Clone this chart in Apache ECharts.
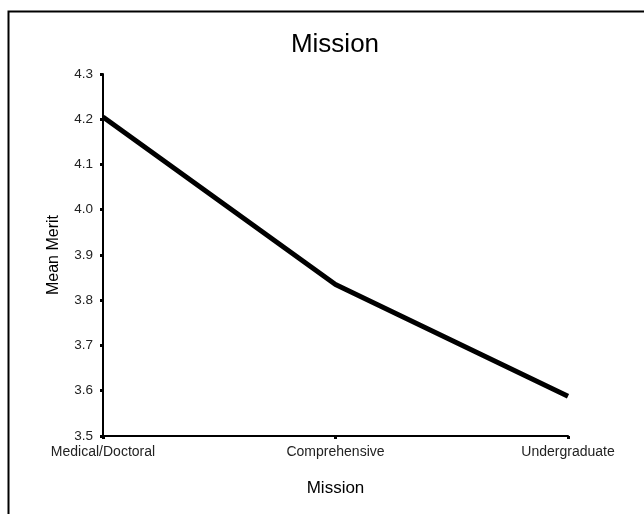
<!DOCTYPE html>
<html>
<head>
<meta charset="utf-8">
<script src="https://cdn.jsdelivr.net/npm/echarts@6/dist/echarts.min.js"></script>
<style>
  html, body { margin: 0; padding: 0; background: #fff; }
  #chart { width: 644px; height: 514px; }
</style>
</head>
<body>
<div id="chart"></div>
<script>
// Mean merit by institutional mission
const categories = ['Medical/Doctoral', 'Comprehensive', 'Undergraduate'];
const meanMerit = [4.205, 3.835, 3.588];
const yTicks = { min: 3.5, max: 4.3, step: 0.1 };

const font = '"Liberation Sans", Arial, sans-serif';
const chart = echarts.init(document.getElementById('chart'), null, { renderer: 'canvas' });

chart.setOption({
  animation: false,
  backgroundColor: '#fff',
  title: {
    text: 'Mission',
    left: 330,
    top: 27,
    textAlign: 'center',
    textStyle: { fontFamily: font, fontSize: 26, fontWeight: 'normal', color: '#000' }
  },
  graphic: [{
    type: 'rect',
    left: 6, top: 9,
    shape: { width: 700, height: 600 },
    style: { fill: 'none', stroke: '#000', lineWidth: 2 },
    silent: true
  }],
  grid: { left: 103, right: 76, top: 74, bottom: 78 },
  xAxis: {
    type: 'category',
    data: categories,
    boundaryGap: false,
    name: 'Mission',
    nameLocation: 'middle',
    nameGap: 44,
    nameTextStyle: { fontFamily: font, fontSize: 17, color: '#000' },
    axisLine: { lineStyle: { color: '#000', width: 2 } },
    axisTick: { show: true, length: 3, lineStyle: { color: '#000', width: 3 } },
    axisLabel: { fontFamily: font, fontSize: 14, color: '#222', margin: 9 },
    splitLine: { show: false }
  },
  yAxis: {
    type: 'value',
    min: yTicks.min,
    max: yTicks.max,
    interval: yTicks.step,
    name: 'Mean Merit',
    nameLocation: 'middle',
    nameGap: 41,
    nameTextStyle: { fontFamily: font, fontSize: 16, color: '#000' },
    axisLine: { show: true, lineStyle: { color: '#000', width: 2 } },
    axisTick: { show: true, length: 3, lineStyle: { color: '#000', width: 3 } },
    axisLabel: {
      fontFamily: font, fontSize: 13.5, color: '#222', margin: 10,
      formatter: v => v.toFixed(1)
    },
    splitLine: { show: false }
  },
  series: [{
    type: 'line',
    data: meanMerit,
    symbol: 'none',
    lineStyle: { color: '#000', width: 5 },
    z: 3
  }]
});
</script>
</body>
</html>
